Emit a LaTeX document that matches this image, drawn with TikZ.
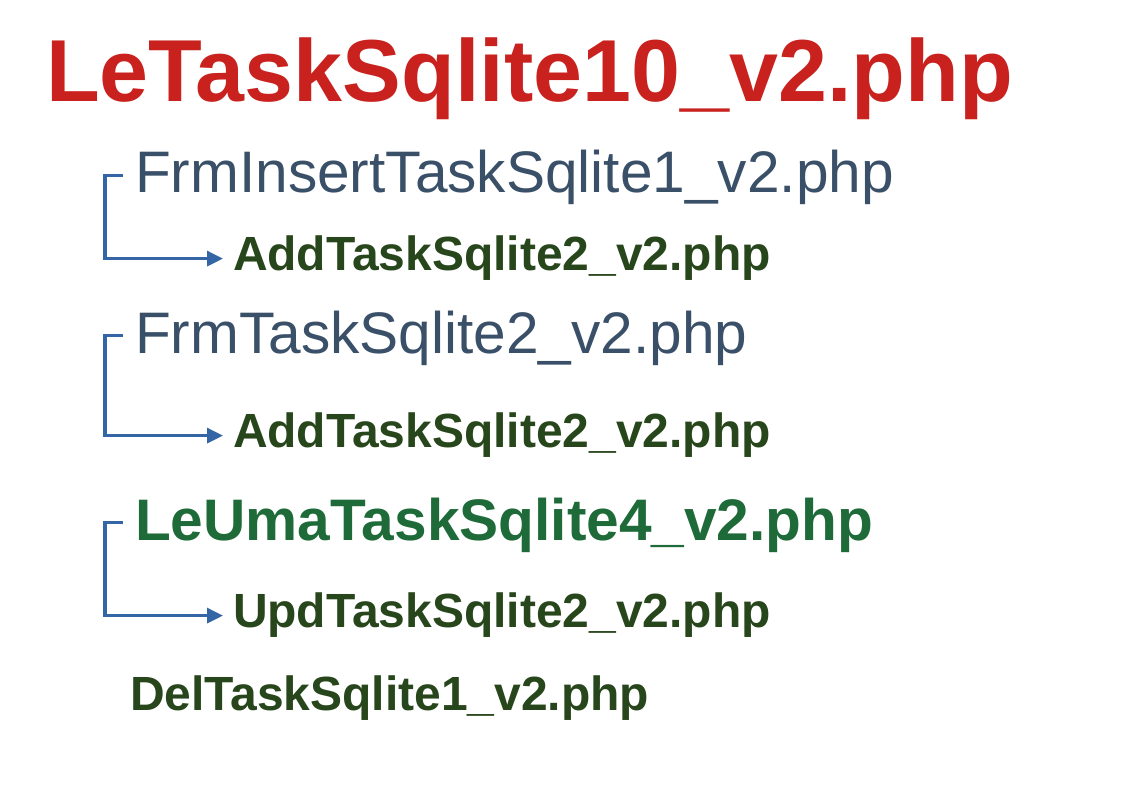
\documentclass[tikz,border=0pt]{standalone}
\usepackage{fontspec}
\setmainfont{Liberation Sans}
\usetikzlibrary{arrows.meta}
\definecolor{titlered}{HTML}{C9211E}
\definecolor{slate}{HTML}{3A5068}
\definecolor{darkgreen}{HTML}{28461B}
\definecolor{midgreen}{HTML}{1E6A39}
\definecolor{linkblue}{HTML}{3465A4}
\begin{document}
\begin{tikzpicture}[x=1pt,y=-1pt,
  lbl/.style={anchor=base west,inner sep=0pt,outer sep=0pt},
  titlelbl/.style={lbl,text=titlered,font=\fontsize{88}{96}\selectfont\bfseries},
  formlbl/.style={lbl,text=slate,font=\fontsize{58.6}{64}\selectfont},
  listlbl/.style={lbl,text=midgreen,font=\fontsize{58.6}{64}\selectfont\bfseries},
  actlbl/.style={lbl,text=darkgreen,font=\fontsize{48}{52}\selectfont\bfseries},
  conn/.style={draw=linkblue,line width=3.2pt,-{Triangle[length=16pt,width=15pt]}}]
\useasboundingbox (0,0) rectangle (1123,794);
\node[titlelbl] (title) at (46,102) {LeTaskSqlite10\_v2.php};
\node[formlbl] (f1) at (135,193) {FrmInsertTaskSqlite1\_v2.php};
\node[actlbl] (a1) at (233,270) {AddTaskSqlite2\_v2.php};
\node[formlbl] (f2) at (135,353) {FrmTaskSqlite2\_v2.php};
\node[actlbl] (a2) at (233,447) {AddTaskSqlite2\_v2.php};
\node[listlbl] (l1) at (135,540) {LeUmaTaskSqlite4\_v2.php};
\node[actlbl] (u1) at (233,627) {UpdTaskSqlite2\_v2.php};
\node[actlbl] (d1) at (130,710) {DelTaskSqlite1\_v2.php};
\draw[conn] ([xshift=-12pt,yshift=2pt]f1.west) -- ++(-18,0) |- ([xshift=-10pt,yshift=-1pt]a1.west);
\draw[conn] ([xshift=-12pt,yshift=2pt]f2.west) -- ++(-18,0) |- ([xshift=-10pt,yshift=-1pt]a2.west);
\draw[conn] ([xshift=-12pt,yshift=2pt]l1.west) -- ++(-18,0) |- ([xshift=-10pt,yshift=-1pt]u1.west);
\end{tikzpicture}
\end{document}
